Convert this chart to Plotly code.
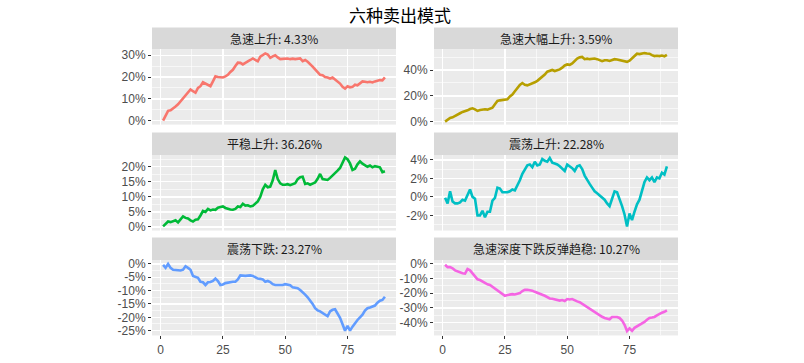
import plotly.graph_objects as go

W, H = 804, 363

titles = ["急速上升: 4.33%", "急速大幅上升: 3.59%", "平稳上升: 36.26%",
          "震荡上升: 22.28%", "震荡下跌: 23.27%", "急速深度下跌反弹趋稳: 10.27%"]
colors = ["#F8766D", "#B79F00", "#00BA38", "#00BFC4", "#619CFF", "#F564E3"]
days = list(range(1, 91))

s1 = [0.0, 2.0, 4.5, 4.8, 5.5, 6.5, 7.5, 8.8, 10.2, 11.8, 12.8, 14.3, 13.5, 12.8, 15.0, 15.8, 17.6, 17.0, 16.5, 15.8,
      18.0, 20.3, 20.0, 19.8, 19.8, 20.3, 21.0, 22.3, 23.3, 25.0, 26.6, 26.5, 25.8, 26.5, 27.0, 27.8, 28.5, 27.8, 27.2, 29.3,
      30.2, 30.8, 30.3, 28.8, 29.5, 30.0, 29.0, 28.2, 28.3, 28.4, 28.5, 28.2, 28.4, 28.2, 28.3, 28.5, 27.3, 27.8, 27.0, 26.0,
      24.8, 23.5, 22.2, 21.0, 20.8, 20.0, 19.8, 19.3, 19.8, 19.0, 18.0, 17.0, 15.5, 14.7, 15.8, 15.3, 15.5, 16.5, 16.2, 17.0,
      18.0, 17.8, 17.6, 17.8, 17.5, 18.0, 18.3, 18.6, 18.5, 19.8]
s2 = [0.0, 1.5, 2.8, 3.3, 4.5, 5.8, 6.5, 7.5, 8.0, 8.8, 9.8, 10.3, 9.5, 8.3, 9.0, 9.5, 9.6, 9.3, 10.0, 10.8,
      13.5, 16.0, 16.5, 16.8, 17.0, 17.3, 19.5, 21.0, 23.5, 26.0, 28.5, 29.9, 28.6, 28.1, 28.8, 29.9, 30.5, 31.6, 33.0, 34.9,
      36.5, 38.7, 39.5, 40.0, 39.2, 39.8, 40.5, 41.8, 43.5, 44.3, 44.0, 45.1, 47.0, 48.9, 49.8, 50.1, 48.4, 48.8, 48.4, 48.6,
      48.9, 48.4, 47.8, 46.8, 47.5, 47.6, 47.0, 48.0, 48.4, 48.2, 47.8, 47.6, 47.0, 46.3, 47.2, 48.9, 51.0, 52.6, 52.3, 52.8,
      53.1, 52.8, 52.6, 51.5, 50.8, 51.0, 50.8, 51.2, 50.6, 51.8]
s3 = [0.2, 1.0, 1.8, 1.6, 1.8, 2.2, 1.5, 2.5, 3.5, 3.0, 2.8, 2.2, 1.8, 2.4, 2.5, 3.8, 5.3, 5.0, 6.0, 5.5,
      5.8, 5.7, 6.4, 6.6, 6.8, 6.3, 6.0, 5.8, 5.7, 6.0, 6.8, 6.6, 7.7, 7.1, 7.2, 6.8, 7.0, 7.7, 8.5, 10.0,
      12.5, 14.0, 13.2, 13.4, 15.5, 18.9, 15.9, 14.5, 14.0, 14.0, 14.2, 13.9, 14.3, 14.5, 15.9, 16.5, 16.7, 14.3, 14.5, 14.0,
      14.4, 14.8, 16.0, 17.6, 15.9, 15.8, 15.6, 16.3, 17.0, 18.0, 18.7, 19.6, 21.5, 23.1, 22.5, 21.1, 18.9, 19.3, 20.8, 21.8,
      21.0, 20.5, 20.0, 20.4, 19.8, 20.2, 20.0, 19.8, 18.2, 18.5]
s4 = [-0.1, -0.7, 0.6, -0.5, -0.7, -0.7, -0.6, -0.3, -0.4, 0.3, 0.8, 0.0, -0.2, -2.0, -2.0, -1.5, -2.2, -1.6, -1.6, -0.4,
      -0.1, 1.0, 0.9, 0.5, 0.5, 0.5, 0.6, 0.8, 0.7, 1.2, 1.8, 2.5, 3.0, 3.4, 3.5, 3.2, 3.8, 3.4, 3.5, 4.1,
      3.9, 3.8, 4.2, 3.7, 3.6, 3.5, 3.3, 3.0, 2.8, 3.5, 3.3, 3.1, 2.8, 3.3, 3.4, 3.0, 2.3, 1.8, 1.4, 1.0,
      0.6, 0.4, 0.2, 0.0, -0.3, -0.7, -1.0, -0.2, 0.6, 0.5, -0.2, -1.0, -1.9, -3.2, -1.8, -2.5, -1.6, -0.8, -0.3, 0.8,
      1.6, 2.1, 1.8, 2.1, 1.6, 2.1, 2.0, 2.6, 2.4, 3.3]
s5 = [-0.4, -1.5, 0.0, -1.5, -2.2, -2.3, -2.4, -2.5, -2.2, -0.9, -1.5, -2.2, -4.5, -5.0, -5.2, -6.7, -6.9, -7.9, -6.9, -6.8,
      -6.4, -5.5, -6.4, -7.9, -7.7, -7.2, -7.0, -6.8, -6.7, -6.7, -5.8, -4.3, -4.5, -4.5, -4.4, -4.3, -4.5, -5.0, -5.5, -5.6,
      -5.8, -6.7, -6.4, -6.8, -7.6, -7.9, -7.9, -8.0, -7.9, -7.6, -7.9, -8.0, -8.8, -9.0, -9.1, -9.8, -10.5, -11.5, -12.5, -13.6,
      -15.0, -16.6, -17.4, -17.8, -18.5, -19.2, -19.6, -17.8, -17.2, -17.0, -18.5, -20.2, -22.6, -25.0, -23.2, -25.0, -23.5, -22.0, -21.0, -20.0,
      -19.0, -17.5, -16.6, -16.3, -16.0, -15.6, -14.5, -13.8, -13.5, -12.3]
s6 = [-0.6, -2.2, -2.2, -3.0, -4.4, -5.0, -6.1, -6.4, -6.6, -3.5, -4.4, -6.6, -9.0, -10.5, -11.0, -12.0, -13.0, -13.9, -14.3, -15.5,
      -16.8, -17.7, -19.0, -20.5, -21.7, -21.2, -20.8, -20.6, -20.8, -20.6, -19.9, -18.5, -17.7, -17.6, -17.8, -18.2, -19.0, -19.5, -20.4, -21.0,
      -21.7, -22.8, -23.5, -23.7, -24.2, -24.8, -25.0, -24.6, -25.2, -23.9, -24.2, -23.9, -25.0, -25.5, -26.1, -27.2, -28.3, -29.4, -30.5, -31.8,
      -33.2, -34.2, -35.4, -36.0, -36.8, -37.3, -37.7, -36.1, -36.0, -36.1, -36.8, -38.5, -41.5, -45.7, -43.9, -45.5, -43.5, -42.5, -41.7, -40.5,
      -39.5, -38.0, -36.8, -36.5, -36.1, -35.0, -34.0, -33.2, -32.6, -31.7]
series = [s1, s2, s3, s4, s5, s6]

y_ticks = [[0, 10, 20, 30], [0, 20, 40], [0, 5, 10, 15, 20], [-2, 0, 2, 4],
           [-25, -20, -15, -10, -5, 0], [-40, -30, -20, -10, 0]]
y_ranges = [[-1.8, 32.8], [-2.3, 56.2], [-1.2, 23.9], [-3.63, 4.52], [-26.8, 1.47], [-48.7, 2.67]]
x_ticks = [0, 25, 50, 75]
x_range = [-3.45, 94.45]

# layout geometry in pixels
cols_px = [(152, 396), (434, 678)]
rows_px = [(47, 124), (155, 232), (262, 339)]
strips_px = [(25, 47), (132, 155), (239, 262)]

fig = go.Figure()
layout = dict(width=W, height=H, margin=dict(l=0, r=0, t=0, b=0),
              paper_bgcolor="white", plot_bgcolor="#EBEBEB", showlegend=False,
              shapes=[], annotations=[])

tickfont = dict(family="Liberation Sans, Arial, sans-serif", size=12, color="#4D4D4D")

for i in range(6):
    r, c = divmod(i, 2)
    n = i + 1
    xa = "xaxis" if n == 1 else f"xaxis{n}"
    ya = "yaxis" if n == 1 else f"yaxis{n}"
    xref = "x" if n == 1 else f"x{n}"
    yref = "y" if n == 1 else f"y{n}"
    x0, x1 = cols_px[c]
    y0, y1 = rows_px[r]
    xd = [x0 / W, x1 / W]
    yd = [1 - y1 / H, 1 - y0 / H]

    fig.add_trace(go.Scatter(x=days, y=series[i], mode="lines", xaxis=xref, yaxis=yref,
                             line=dict(color=colors[i], width=2.6), hoverinfo="skip"))

    yt = y_ticks[i]
    ymin = [(yt[k] + yt[k + 1]) / 2 for k in range(len(yt) - 1)]
    step = yt[1] - yt[0]
    ymin = [yt[0] - step / 2] + ymin + [yt[-1] + step / 2]
    layout[ya] = dict(domain=yd, range=y_ranges[i], anchor=xref,
                      tickvals=yt, ticktext=[f"{v}%" for v in yt],
                      showgrid=True, gridcolor="white", gridwidth=1.4, zeroline=False,
                      ticks="outside", ticklen=3, tickcolor="#333333", tickwidth=1,
                      tickfont=tickfont, showline=False,
                      minor=dict(tickvals=ymin, showgrid=True, gridcolor="white", gridwidth=0.6, ticks=""))
    bottom = (r == 2)
    layout[xa] = dict(domain=xd, range=x_range, anchor=yref,
                      tickvals=x_ticks, ticktext=[str(v) for v in x_ticks],
                      showticklabels=bottom, ticks="outside" if bottom else "",
                      ticklen=3, tickcolor="#333333", tickwidth=1, tickfont=tickfont,
                      showgrid=True, gridcolor="white", gridwidth=1.4, zeroline=False,
                      minor=dict(tickvals=[-12.5, 12.5, 37.5, 62.5, 87.5], showgrid=True,
                                 gridcolor="white", gridwidth=0.6, ticks=""))

    s0, s1_ = strips_px[r]
    layout["shapes"].append(dict(type="rect", xref="paper", yref="paper",
                                 x0=x0 / W, x1=x1 / W, y0=1 - s1_ / H, y1=1 - s0 / H,
                                 fillcolor="#D9D9D9", line=dict(width=0), layer="below"))
    layout["annotations"].append(dict(text=titles[i], xref="paper", yref="paper",
                                      x=(x0 + x1) / 2 / W, y=1 - (s0 + s1_) / 2 / H,
                                      xanchor="center", yanchor="middle", showarrow=False,
                                      font=dict(family="Noto Sans CJK SC", size=12, color="#1A1A1A")))

layout["annotations"].append(dict(text="六种卖出模式", xref="paper", yref="paper",
                                  x=400 / W, y=1 - 12 / H, xanchor="center", yanchor="middle",
                                  showarrow=False,
                                  font=dict(family="Noto Sans CJK SC", size=17, color="black")))

fig.update_layout(**layout)
fig.write_html("out.html", config={"displayModeBar": False, "staticPlot": True},
               post_script="document.body.style.margin='0px';document.body.style.overflow='hidden';")
